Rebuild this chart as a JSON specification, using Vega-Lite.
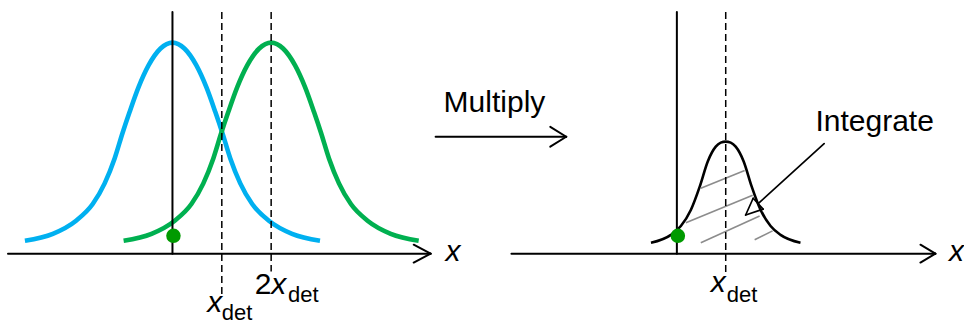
{
  "$schema": "https://vega.github.io/schema/vega-lite/v6.json",
  "width": 964,
  "height": 325,
  "autosize": {"type": "fit", "contains": "padding"},
  "padding": 0,
  "background": "white",
  "config": {"view": {"stroke": null}},
  "datasets": {
    "curves": [
      {"s": "blue", "x": -2.990, "y": 0.061}, {"s": "blue", "x": -2.424, "y": 0.094}, {"s": "blue", "x": -1.960, "y": 0.155},
      {"s": "blue", "x": -1.616, "y": 0.235}, {"s": "blue", "x": -1.374, "y": 0.333}, {"s": "blue", "x": -1.172, "y": 0.451},
      {"s": "blue", "x": -1.010, "y": 0.573}, {"s": "blue", "x": -0.869, "y": 0.671}, {"s": "blue", "x": -0.687, "y": 0.789},
      {"s": "blue", "x": -0.485, "y": 0.892}, {"s": "blue", "x": -0.242, "y": 0.972}, {"s": "blue", "x": 0.0, "y": 1.0},
      {"s": "blue", "x": 0.242, "y": 0.972}, {"s": "blue", "x": 0.485, "y": 0.892}, {"s": "blue", "x": 0.687, "y": 0.789},
      {"s": "blue", "x": 0.869, "y": 0.671}, {"s": "blue", "x": 1.010, "y": 0.573}, {"s": "blue", "x": 1.172, "y": 0.451},
      {"s": "blue", "x": 1.374, "y": 0.333}, {"s": "blue", "x": 1.616, "y": 0.235}, {"s": "blue", "x": 1.960, "y": 0.155},
      {"s": "blue", "x": 2.424, "y": 0.094}, {"s": "blue", "x": 2.990, "y": 0.061},
      {"s": "green", "x": -0.990, "y": 0.061}, {"s": "green", "x": -0.424, "y": 0.094}, {"s": "green", "x": 0.040, "y": 0.155},
      {"s": "green", "x": 0.384, "y": 0.235}, {"s": "green", "x": 0.626, "y": 0.333}, {"s": "green", "x": 0.828, "y": 0.451},
      {"s": "green", "x": 0.990, "y": 0.573}, {"s": "green", "x": 1.131, "y": 0.671}, {"s": "green", "x": 1.313, "y": 0.789},
      {"s": "green", "x": 1.515, "y": 0.892}, {"s": "green", "x": 1.758, "y": 0.972}, {"s": "green", "x": 2.0, "y": 1.0},
      {"s": "green", "x": 2.242, "y": 0.972}, {"s": "green", "x": 2.485, "y": 0.892}, {"s": "green", "x": 2.687, "y": 0.789},
      {"s": "green", "x": 2.869, "y": 0.671}, {"s": "green", "x": 3.010, "y": 0.573}, {"s": "green", "x": 3.172, "y": 0.451},
      {"s": "green", "x": 3.374, "y": 0.333}, {"s": "green", "x": 3.616, "y": 0.235}, {"s": "green", "x": 3.960, "y": 0.155},
      {"s": "green", "x": 4.424, "y": 0.094}, {"s": "green", "x": 4.990, "y": 0.061},
      {"s": "product", "x": 9.697, "y": 0.052}, {"s": "product", "x": 10.101, "y": 0.089}, {"s": "product", "x": 10.303, "y": 0.131},
      {"s": "product", "x": 10.505, "y": 0.207}, {"s": "product", "x": 10.687, "y": 0.319}, {"s": "product", "x": 10.848, "y": 0.437},
      {"s": "product", "x": 11.010, "y": 0.507}, {"s": "product", "x": 11.111, "y": 0.526}, {"s": "product", "x": 11.212, "y": 0.531},
      {"s": "product", "x": 11.313, "y": 0.526}, {"s": "product", "x": 11.414, "y": 0.507}, {"s": "product", "x": 11.576, "y": 0.437},
      {"s": "product", "x": 11.737, "y": 0.319}, {"s": "product", "x": 11.919, "y": 0.207}, {"s": "product", "x": 12.121, "y": 0.131},
      {"s": "product", "x": 12.323, "y": 0.089}, {"s": "product", "x": 12.727, "y": 0.052}
    ],
    "segs": [
      {"k": "solid", "x": -3.333, "y": 0, "x2": 5.232, "y2": 0},
      {"k": "solid", "x": 4.889, "y": 0.0423, "x2": 5.232, "y2": 0},
      {"k": "solid", "x": 4.889, "y": -0.0423, "x2": 5.232, "y2": 0},
      {"k": "solid", "x": 0, "y": 1.1455, "x2": 0, "y2": 0},
      {"k": "solid", "x": 6.869, "y": 0, "x2": 15.461, "y2": 0},
      {"k": "solid", "x": 15.158, "y": 0.0423, "x2": 15.461, "y2": 0},
      {"k": "solid", "x": 15.158, "y": -0.0423, "x2": 15.461, "y2": 0},
      {"k": "solid", "x": 10.222, "y": 1.1455, "x2": 10.222, "y2": 0},
      {"k": "solid", "x": 5.333, "y": 0.554, "x2": 7.980, "y2": 0.554},
      {"k": "solid", "x": 7.657, "y": 0.601, "x2": 7.980, "y2": 0.554},
      {"k": "solid", "x": 7.657, "y": 0.507, "x2": 7.980, "y2": 0.554},
      {"k": "thin", "x": 13.206, "y": 0.5211, "x2": 11.869, "y2": 0.2366},
      {"k": "thin", "x": 11.616, "y": 0.1831, "x2": 11.768, "y2": 0.2624},
      {"k": "thin", "x": 11.768, "y": 0.2624, "x2": 11.970, "y2": 0.2108},
      {"k": "thin", "x": 11.970, "y": 0.2108, "x2": 11.616, "y2": 0.1831},
      {"k": "dashed", "x": 1.0, "y": 1.1455, "x2": 1.0, "y2": -0.197},
      {"k": "dashed", "x": 2.0, "y": 1.1455, "x2": 2.0, "y2": -0.0845},
      {"k": "dashed", "x": 11.212, "y": 1.1455, "x2": 11.212, "y2": -0.089},
      {"k": "hatch", "x": 10.707, "y": 0.310, "x2": 11.596, "y2": 0.394},
      {"k": "hatch", "x": 10.404, "y": 0.146, "x2": 11.758, "y2": 0.277},
      {"k": "hatch", "x": 10.707, "y": 0.0516, "x2": 11.899, "y2": 0.178},
      {"k": "hatch", "x": 11.798, "y": 0.0657, "x2": 12.162, "y2": 0.108}
    ],
    "dots": [
      {"x": 0.02, "y": 0.0845},
      {"x": 10.242, "y": 0.0845}
    ],
    "labels": [
      {"r": "big", "x": 5.495, "y": 0.6714, "t": "Multiply"},
      {"r": "big", "x": 13.03, "y": 0.5822, "t": "Integrate"},
      {"r": "axisx", "x": 5.535, "y": -0.0329, "t": "x"},
      {"r": "axisx", "x": 15.737, "y": -0.0329, "t": "x"},
      {"r": "num", "x": 1.667, "y": -0.1925, "t": "2"},
      {"r": "var", "x": 2.0, "y": -0.1925, "t": "x"},
      {"r": "var", "x": 0.707, "y": -0.277, "t": "x"},
      {"r": "var", "x": 10.909, "y": -0.1831, "t": "x"},
      {"r": "sub", "x": 2.343, "y": -0.23, "t": "det"},
      {"r": "sub", "x": 1.0, "y": -0.3146, "t": "det"},
      {"r": "sub", "x": 11.232, "y": -0.23, "t": "det"}
    ]
  },
  "encoding": {
    "x": {"field": "x", "type": "quantitative", "axis": null, "scale": {"domain": [-3.495, 15.98], "nice": false, "zero": false}},
    "y": {"field": "y", "type": "quantitative", "axis": null, "scale": {"domain": [-0.3239, 1.2019], "nice": false, "zero": false}}
  },
  "layer": [
    {
      "data": {"name": "curves"},
      "transform": [{"filter": "datum.s !== 'product'"}],
      "mark": {"type": "line", "interpolate": "monotone", "strokeWidth": 4.6, "strokeCap": "butt"},
      "encoding": {
        "color": {"field": "s", "type": "nominal", "legend": null, "scale": {"domain": ["blue", "green"], "range": ["#00B0F0", "#00B050"]}}
      }
    },
    {
      "data": {"name": "curves"},
      "transform": [{"filter": "datum.s === 'product'"}],
      "mark": {"type": "line", "interpolate": "monotone", "strokeWidth": 2.6, "color": "#000000"},
      "encoding": {}
    },
    {
      "data": {"name": "segs"},
      "transform": [{"filter": "datum.k === 'hatch'"}],
      "mark": {"type": "rule", "strokeWidth": 1.6, "color": "#8c8c8c"},
      "encoding": {"x2": {"field": "x2"}, "y2": {"field": "y2"}}
    },
    {
      "data": {"name": "segs"},
      "transform": [{"filter": "datum.k === 'solid'"}],
      "mark": {"type": "rule", "strokeWidth": 2, "color": "#000000", "strokeCap": "round"},
      "encoding": {"x2": {"field": "x2"}, "y2": {"field": "y2"}}
    },
    {
      "data": {"name": "segs"},
      "transform": [{"filter": "datum.k === 'thin'"}],
      "mark": {"type": "rule", "strokeWidth": 1.7, "color": "#000000", "strokeCap": "round"},
      "encoding": {"x2": {"field": "x2"}, "y2": {"field": "y2"}}
    },
    {
      "data": {"name": "segs"},
      "transform": [{"filter": "datum.k === 'dashed'"}],
      "mark": {"type": "rule", "strokeWidth": 1.5, "color": "#000000", "strokeDash": [7, 4]},
      "encoding": {"x2": {"field": "x2"}, "y2": {"field": "y2"}}
    },
    {
      "data": {"name": "dots"},
      "mark": {"type": "point", "shape": "circle", "filled": true, "size": 210, "color": "#009A00", "opacity": 1},
      "encoding": {}
    },
    {
      "data": {"name": "labels"},
      "transform": [{"filter": "datum.r === 'big'"}],
      "mark": {"type": "text", "align": "left", "baseline": "alphabetic", "font": "Liberation Sans", "fontSize": 30, "color": "#000000"},
      "encoding": {"text": {"field": "t"}}
    },
    {
      "data": {"name": "labels"},
      "transform": [{"filter": "datum.r === 'axisx'"}],
      "mark": {"type": "text", "align": "left", "baseline": "alphabetic", "font": "Liberation Sans", "fontStyle": "italic", "fontSize": 30, "color": "#000000"},
      "encoding": {"text": {"field": "t"}}
    },
    {
      "data": {"name": "labels"},
      "transform": [{"filter": "datum.r === 'num'"}],
      "mark": {"type": "text", "align": "left", "baseline": "alphabetic", "font": "Liberation Sans", "fontSize": 30, "color": "#000000"},
      "encoding": {"text": {"field": "t"}}
    },
    {
      "data": {"name": "labels"},
      "transform": [{"filter": "datum.r === 'var'"}],
      "mark": {"type": "text", "align": "left", "baseline": "alphabetic", "font": "Liberation Sans", "fontStyle": "italic", "fontSize": 30, "color": "#000000"},
      "encoding": {"text": {"field": "t"}}
    },
    {
      "data": {"name": "labels"},
      "transform": [{"filter": "datum.r === 'sub'"}],
      "mark": {"type": "text", "align": "left", "baseline": "alphabetic", "font": "Liberation Sans", "fontSize": 22, "color": "#000000"},
      "encoding": {"text": {"field": "t"}}
    }
  ]
}
